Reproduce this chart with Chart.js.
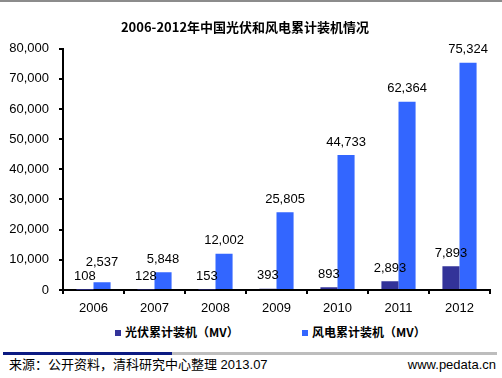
<!DOCTYPE html>
<html>
<head>
<meta charset="utf-8">
<script src="https://cdn.jsdelivr.net/npm/chart.js@4"></script>
<style>
  html, body { margin: 0; padding: 0; background: #fff; }
  #wrap { position: relative; width: 502px; height: 378px; overflow: hidden; font-family: 'Liberation Sans', 'Noto Sans CJK SC', sans-serif; }
  #topline { position: absolute; left: 0; top: 0; width: 502px; height: 2px; background: #8c8c8c; }
  #chartBox { position: absolute; left: 0; top: 0; width: 502px; height: 322px; }
  .legend-item { position: absolute; top: 324px; height: 16px; line-height: 16px; font-size: 12px; font-weight: bold; font-family: 'Noto Sans CJK SC', sans-serif; color: #000; white-space: nowrap; }
  .legend-item i { display: inline-block; width: 6px; height: 6px; margin-right: 4px; vertical-align: 1px; }
  #sepDark { position: absolute; left: 3px; top: 352px; width: 169px; height: 3px; background: #0b1a82; }
  #sepGray { position: absolute; left: 172px; top: 352px; width: 325px; height: 3px; background: #bdbdbd; }
  #source { position: absolute; left: 9px; top: 356px; font-size: 13px; line-height: 18px; color: #000; white-space: nowrap; }
  #site { position: absolute; right: 6px; top: 356px; font-size: 13px; line-height: 18px; color: #000; }
</style>
</head>
<body>
<div id="wrap">
  <div id="topline"></div>
  <div id="chartBox"><canvas id="installChart" width="502" height="322"></canvas></div>
  <div class="legend-item" id="legPv" style="left:115px;"><i style="background:#333399"></i>光伏累计装机（MV）</div>
  <div class="legend-item" id="legWind" style="left:302px;"><i style="background:#3366ff"></i>风电累计装机（MV）</div>
  <div id="sepDark"></div>
  <div id="sepGray"></div>
  <div id="source">来源：公开资料，清科研究中心整理 2013.07</div>
  <div id="site">www.pedata.cn</div>
</div>
<script>
// chart data
const years = ['2006', '2007', '2008', '2009', '2010', '2011', '2012'];
const pvValues = [108, 128, 153, 393, 893, 2893, 7893];
const windValues = [2537, 5848, 12002, 25805, 44733, 62364, 75324];
const yTicks = [0, 10000, 20000, 30000, 40000, 50000, 60000, 70000, 80000];

const numFont = { family: "'Liberation Sans', Arial, sans-serif", size: 13 };

function fmt(v) {
    return v.toLocaleString('en-US');
}

// value labels above the bars, wind label pushed up if it hits the pv label
const barLabels = {
    id: 'barLabels',
    afterDatasetsDraw(chart) {
        const ctx = chart.ctx;
        const pvMeta = chart.getDatasetMeta(0);
        const windMeta = chart.getDatasetMeta(1);
        ctx.save();
        ctx.font = numFont.size + 'px ' + numFont.family;
        ctx.fillStyle = '#000';
        ctx.textAlign = 'center';
        ctx.textBaseline = 'middle';
        years.forEach(function(y, i) {
            const pvBar = pvMeta.data[i];
            const windBar = windMeta.data[i];
            const pvText = fmt(pvValues[i]);
            const windText = fmt(windValues[i]);
            const pvY = pvBar.y - 13;
            let windY = windBar.y - 13;
            const pvW = ctx.measureText(pvText).width;
            const windW = ctx.measureText(windText).width;
            const hitX = (windBar.x - windW / 2) < (pvBar.x + pvW / 2);
            if (hitX && Math.abs(windY - pvY) < 14) {
                windY = pvY - 14;
            }
            ctx.fillText(pvText, pvBar.x, pvY);
            ctx.fillText(windText, windBar.x, windY);
        });
        ctx.restore();
    }
};

const ctx = document.getElementById('installChart').getContext('2d');
const installChart = new Chart(ctx, {
    type: 'bar',
    data: {
        labels: years,
        datasets: [
            {
                label: '光伏累计装机（MV）',
                data: pvValues,
                backgroundColor: '#333399',
                borderWidth: 0,
                categoryPercentage: 0.56,
                barPercentage: 1
            },
            {
                label: '风电累计装机（MV）',
                data: windValues,
                backgroundColor: '#3366ff',
                borderWidth: 0,
                categoryPercentage: 0.56,
                barPercentage: 1
            }
        ]
    },
    options: {
        responsive: false,
        animation: false,
        layout: { padding: { left: 0, right: 12, top: 0, bottom: 0 } },
        plugins: {
            legend: { display: false },
            tooltip: { enabled: false },
            title: {
                display: true,
                text: '2006-2012年中国光伏和风电累计装机情况',
                color: '#000',
                font: { family: "'Noto Sans CJK SC', sans-serif", size: 13, weight: 'bold' },
                padding: { top: 19, bottom: 14 }
            }
        },
        scales: {
            x: {
                grid: { display: true, drawOnChartArea: false, drawTicks: true, tickLength: 4, color: '#000', lineWidth: 2 },
                border: { display: true, color: '#000', width: 2 },
                ticks: { color: '#000', font: numFont, padding: 7 },
                afterFit(scale) { scale.height = 32; }
            },
            y: {
                min: 0,
                max: 80000,
                afterBuildTicks(scale) { scale.ticks = yTicks.map(v => ({ value: v })); },
                grid: { display: true, drawOnChartArea: false, drawTicks: true, tickLength: 4, color: '#000', lineWidth: 2 },
                border: { display: true, color: '#000', width: 2 },
                ticks: { color: '#000', font: numFont, padding: 10, callback: v => fmt(v) },
                afterFit(scale) { scale.width = 63; }
            }
        }
    },
    plugins: [barLabels]
});
</script>
</body>
</html>
